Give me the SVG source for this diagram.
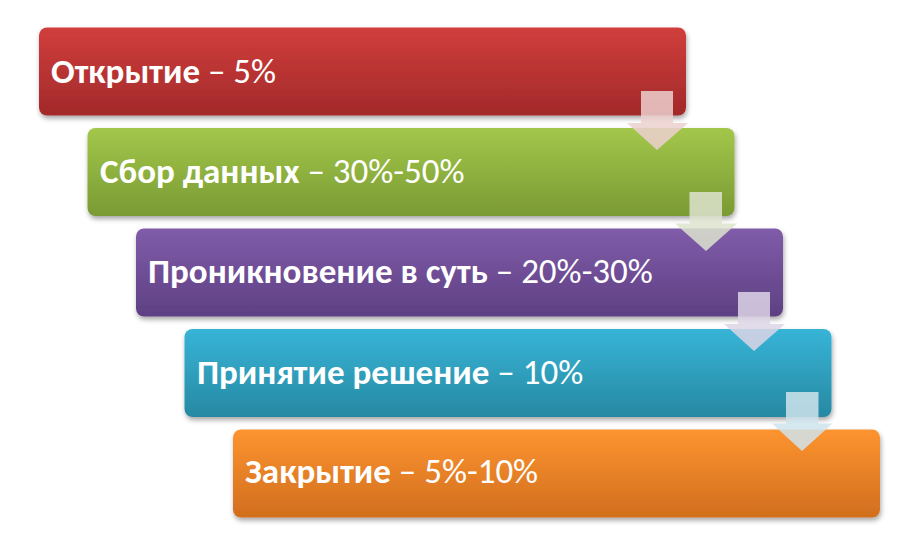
<svg xmlns="http://www.w3.org/2000/svg" width="923" height="553" viewBox="0 0 923 553">
  <style>
    .lbl { font-family: Calibri, Carlito, "Open Sans", "Liberation Sans", sans-serif; font-size: 35px; fill: #ffffff; }
    .b { font-weight: bold; }
    .box { filter: url(#sh); }
    .arr { opacity: 0.85; }
  </style>
  <defs>
    <filter id="sh" x="-5%" y="-20%" width="110%" height="150%">
      <feDropShadow dx="1" dy="3" stdDeviation="2.5" flood-color="#000" flood-opacity="0.35"/>
    </filter>
    <linearGradient id="gRed" x1="0" y1="0" x2="0" y2="1">
      <stop offset="0" stop-color="#d13e3c"/><stop offset="1" stop-color="#a2292a"/>
    </linearGradient>
    <linearGradient id="gGreen" x1="0" y1="0" x2="0" y2="1">
      <stop offset="0" stop-color="#a3c74b"/><stop offset="1" stop-color="#7a9a33"/>
    </linearGradient>
    <linearGradient id="gPurple" x1="0" y1="0" x2="0" y2="1">
      <stop offset="0" stop-color="#805ca9"/><stop offset="1" stop-color="#5e4083"/>
    </linearGradient>
    <linearGradient id="gBlue" x1="0" y1="0" x2="0" y2="1">
      <stop offset="0" stop-color="#37b4d7"/><stop offset="1" stop-color="#2789a2"/>
    </linearGradient>
    <linearGradient id="gOrange" x1="0" y1="0" x2="0" y2="1">
      <stop offset="0" stop-color="#fd9430"/><stop offset="1" stop-color="#d16e1e"/>
    </linearGradient>
  </defs>

  <g id="node1">
    <rect class="box" x="39" y="27.5" width="647" height="88" rx="8" fill="url(#gRed)"/>
    <text class="lbl" x="51" y="83"><tspan class="b">Открытие</tspan> – 5%</text>
  </g>
  <g id="node2">
    <rect class="box" x="87.5" y="128" width="647" height="88" rx="8" fill="url(#gGreen)"/>
    <text class="lbl" x="100" y="182.5"><tspan class="b">Сбор данных</tspan> – 30%-50%</text>
  </g>
  <g id="node3">
    <rect class="box" x="136" y="228.5" width="647" height="88" rx="8" fill="url(#gPurple)"/>
    <text class="lbl" x="148" y="283"><tspan class="b">Проникновение в суть</tspan> – 20%-30%</text>
  </g>
  <g id="node4">
    <rect class="box" x="184.5" y="329" width="647" height="88" rx="8" fill="url(#gBlue)"/>
    <text class="lbl" x="197" y="383.5"><tspan class="b">Принятие решение</tspan> – 10%</text>
  </g>
  <g id="node5">
    <rect class="box" x="233" y="429.5" width="647" height="88" rx="8" fill="url(#gOrange)"/>
    <text class="lbl" x="245" y="483"><tspan class="b">Закрытие</tspan> – 5%-10%</text>
  </g>

  <g id="connectors">
    <polygon class="arr" fill="#ecd0cf" points="641,91 673,91 673,123 688,123 657,150 627,123 641,123"/>
    <polygon class="arr" fill="#dde3cf" points="689.5,192 722,192 722,223.5 737,223.5 706,251 675,223.5 689.5,223.5"/>
    <polygon class="arr" fill="#ddd5e6" points="738,292 770,292 770,324 785,324 754,351 724,324 738,324"/>
    <polygon class="arr" fill="#cfe4ec" points="786,392 818.5,392 818.5,423.5 832.5,423.5 802,451 772,423.5 786,423.5"/>
  </g>
</svg>
